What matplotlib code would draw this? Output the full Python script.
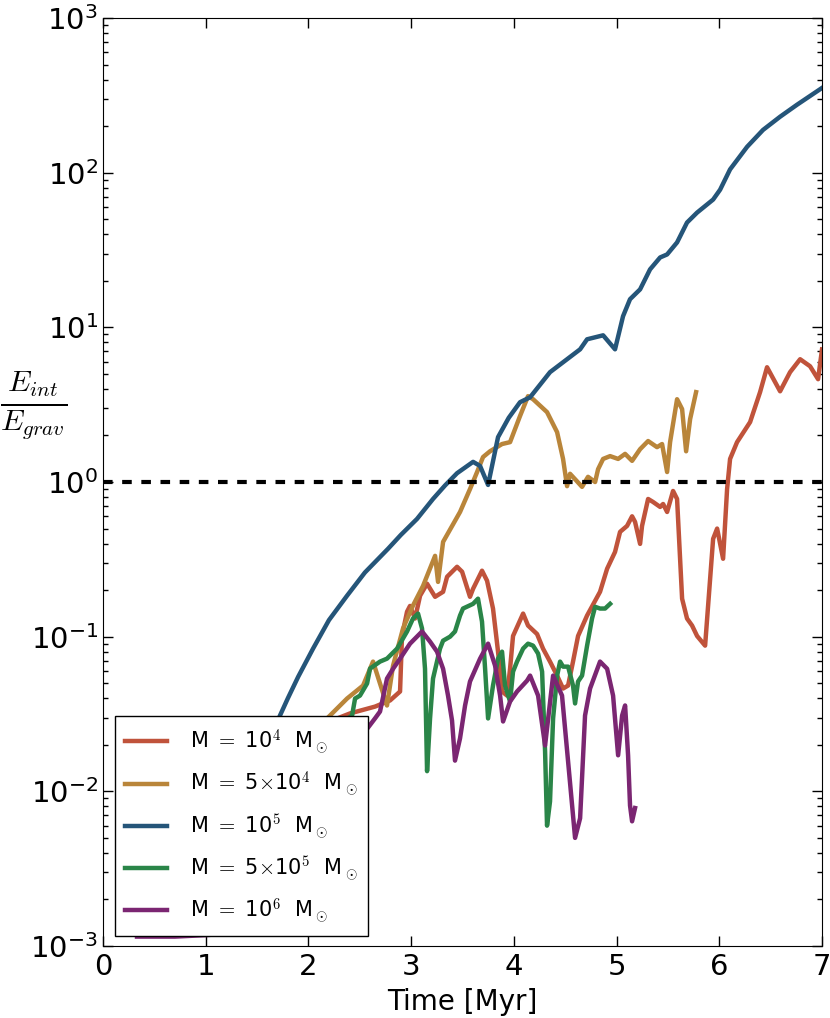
import numpy as np
import matplotlib
matplotlib.use("Agg")
import matplotlib.pyplot as plt
from matplotlib.font_manager import FontProperties

# Time [Myr] and E_int/E_grav, one pair of lists per run
t_1e4 = [1.0, 2.0, 2.405, 2.648, 2.795, 2.892, 2.911, 2.960, 2.989, 3.038, 3.087, 3.155,
         3.233, 3.311, 3.350, 3.447, 3.496, 3.573, 3.603, 3.690, 3.739, 3.797, 3.846,
         3.885, 3.934, 3.963, 3.992, 4.090, 4.138, 4.226, 4.284, 4.352, 4.421, 4.479,
         4.528, 4.576, 4.625, 4.713, 4.839, 4.908, 4.985, 5.034, 5.102, 5.151, 5.180,
         5.229, 5.248, 5.307, 5.355, 5.424, 5.453, 5.492, 5.550, 5.589, 5.638, 5.686,
         5.735, 5.784, 5.862, 5.940, 5.979, 6.037, 6.076, 6.105, 6.173, 6.300, 6.397,
         6.465, 6.592, 6.689, 6.787, 6.884, 6.962, 7.0]
e_1e4 = [0.01, 0.025, 0.0319, 0.0353, 0.0387, 0.0442, 0.101, 0.145, 0.158, 0.131, 0.184,
         0.220, 0.181, 0.195, 0.244, 0.283, 0.263, 0.181, 0.204, 0.267, 0.230, 0.152,
         0.080, 0.0442, 0.0416, 0.062, 0.101, 0.141, 0.118, 0.104, 0.0837, 0.069, 0.056,
         0.0462, 0.0483, 0.069, 0.101, 0.137, 0.195, 0.275, 0.353, 0.476, 0.520, 0.60,
         0.552, 0.398, 0.520, 0.777, 0.743, 0.690, 0.721, 0.640, 0.875, 0.777, 0.176,
         0.131, 0.118, 0.101, 0.0875, 0.429, 0.50, 0.319, 0.90, 1.41, 1.81, 2.44, 3.81,
         5.52, 3.86, 5.13, 6.22, 5.60, 4.62, 7.2]

t_5e4 = [1.0, 2.210, 2.376, 2.532, 2.629, 2.765, 2.824, 2.921, 3.018, 3.116, 3.233, 3.262,
         3.311, 3.476, 3.573, 3.642, 3.700, 3.768, 3.885, 3.963, 4.060, 4.138, 4.187,
         4.323, 4.421, 4.479, 4.518, 4.547, 4.615, 4.664, 4.722, 4.791, 4.820, 4.869,
         4.937, 5.015, 5.083, 5.151, 5.229, 5.307, 5.394, 5.443, 5.492, 5.521, 5.589,
         5.638, 5.677, 5.716, 5.774]
e_5e4 = [0.005, 0.0309, 0.0398, 0.0483, 0.069, 0.0359, 0.065, 0.113, 0.159, 0.213, 0.333,
         0.226, 0.41, 0.64, 0.90, 1.16, 1.45, 1.58, 1.76, 1.81, 2.67, 3.59, 3.43, 2.83,
         2.10, 1.41, 0.94, 1.13, 1.01, 0.93, 1.08, 1.0, 1.21, 1.41, 1.47, 1.41, 1.52,
         1.37, 1.63, 1.84, 1.68, 1.76, 1.16, 1.81, 3.43, 2.96, 1.58, 2.55, 3.81]

t_1e5 = [1.2, 1.723, 1.80, 1.90, 2.045, 2.20, 2.376, 2.55, 2.775, 2.90, 3.057, 3.213,
         3.33, 3.447, 3.603, 3.671, 3.749, 3.846, 3.95, 4.060, 4.158, 4.352, 4.518,
         4.645, 4.713, 4.869, 4.985, 5.063, 5.131, 5.229, 5.326, 5.424, 5.492, 5.589,
         5.686, 5.784, 5.940, 6.008, 6.105, 6.271, 6.426, 6.592, 6.757, 7.0]
e_1e5 = [0.005, 0.0309, 0.040, 0.055, 0.0837, 0.128, 0.184, 0.26, 0.370, 0.455, 0.577,
         0.777, 0.95, 1.14, 1.35, 1.27, 0.957, 1.95, 2.6, 3.28, 3.53, 5.13, 6.22, 7.21,
         8.37, 8.88, 7.21, 11.8, 15.2, 17.6, 23.7, 28.3, 29.6, 35.4, 47.6, 55.2, 67.0,
         77.6, 105, 147, 189, 230, 275, 353]

t_5e5 = [1.0, 2.0, 2.425, 2.454, 2.502, 2.571, 2.600, 2.697, 2.765, 2.863, 2.960, 3.018,
         3.067, 3.106, 3.135, 3.155, 3.184, 3.213, 3.281, 3.311, 3.379, 3.427, 3.476,
         3.505, 3.603, 3.651, 3.690, 3.720, 3.749, 3.797, 3.846, 3.885, 3.914, 3.963,
         3.992, 4.031, 4.090, 4.138, 4.187, 4.236, 4.275, 4.304, 4.323, 4.352, 4.382,
         4.421, 4.450, 4.479, 4.528, 4.576, 4.596, 4.625, 4.664, 4.713, 4.761, 4.791,
         4.839, 4.888, 4.937]
e_5e5 = [0.005, 0.02, 0.0309, 0.0398, 0.0416, 0.0498, 0.0622, 0.069, 0.0721, 0.0837, 0.108,
         0.131, 0.141, 0.113, 0.062, 0.0135, 0.0296, 0.0536, 0.0837, 0.0942, 0.100,
         0.108, 0.137, 0.152, 0.163, 0.176, 0.125, 0.062, 0.0296, 0.0483, 0.0721, 0.080,
         0.0483, 0.0381, 0.0594, 0.069, 0.0837, 0.0901, 0.0875, 0.0777, 0.0594, 0.0181,
         0.0060, 0.0086, 0.0296, 0.056, 0.069, 0.064, 0.064, 0.0483, 0.037, 0.0513,
         0.056, 0.0875, 0.131, 0.156, 0.152, 0.152, 0.163]

t_1e6 = [0.331, 0.70, 1.042, 1.5, 2.2, 2.648, 2.697, 2.765, 2.824, 2.892, 2.989, 3.106,
         3.184, 3.252, 3.311, 3.359, 3.398, 3.427, 3.476, 3.525, 3.573, 3.671, 3.749,
         3.817, 3.866, 3.895, 3.963, 4.031, 4.129, 4.158, 4.236, 4.304, 4.382, 4.469,
         4.528, 4.596, 4.645, 4.693, 4.742, 4.839, 4.908, 4.966, 5.015, 5.054, 5.083,
         5.112, 5.131, 5.151, 5.180]
e_1e6 = [1.15e-3, 1.15e-3, 1.18e-3, 0.003, 0.012, 0.0296, 0.0328, 0.0536, 0.062, 0.0721,
         0.0901, 0.108, 0.0929, 0.080, 0.062, 0.0416, 0.0287, 0.0158, 0.022, 0.0359,
         0.0513, 0.0721, 0.0901, 0.065, 0.0416, 0.0283, 0.0381, 0.0442, 0.052, 0.056,
         0.0416, 0.0198, 0.056, 0.0416, 0.0156, 0.0050, 0.0067, 0.0309, 0.0462, 0.069,
         0.062, 0.0416, 0.0171, 0.0309, 0.0359, 0.0171, 0.0081, 0.0064, 0.0078]

labels = [r'M $=$ 10$^4$  M$_\odot$',
          r'M $=$ 5$\times$10$^4$  M$_\odot$',
          r'M $=$ 10$^5$  M$_\odot$',
          r'M $=$ 5$\times$10$^5$  M$_\odot$',
          r'M $=$ 10$^6$  M$_\odot$']
colors = ['#c0533b', '#b9853a', '#255579', '#2a8548', '#7b2672']

plt.rcParams['mathtext.fontset'] = 'dejavusans'

fig = plt.figure(figsize=(8.3, 10.18), dpi=100)
ax = fig.add_axes([103/830, 1 - 946/1018, 719/830, 928/1018])

runs = [(t_1e4, e_1e4), (t_5e4, e_5e4), (t_1e5, e_1e5), (t_5e5, e_5e5), (t_1e6, e_1e6)]
for (t, e), lab, c in zip(runs, labels, colors):
    ax.plot(t, e, color=c, lw=3.2, label=lab)

ax.axhline(1.0, color='k', lw=3, ls=(0, (2.3, 2.3)))

ax.set_yscale('log')
ax.set_xlim(0, 7)
ax.set_ylim(1e-3, 1e3)
ax.set_xticks(range(8))

ax.tick_params(which='both', direction='in', top=True, right=True, labelsize=21)
ax.tick_params(which='major', length=7, width=1)
ax.tick_params(which='minor', length=3.5, width=1)
ax.tick_params(axis='x', pad=5)

ax.set_xlabel('Time [Myr]', fontsize=20, labelpad=5)
ax.set_ylabel(r'$\frac{E_{int}}{E_{grav}}$', fontsize=31, rotation=0,
              math_fontfamily='cm', ha='center', va='center')
ax.yaxis.set_label_coords(-0.097, 0.583)

leg = ax.legend(loc='lower left', bbox_to_anchor=(12/719, 10/928), borderaxespad=0,
                prop=FontProperties(size=15, math_fontfamily='cm'),
                fancybox=False, framealpha=1, edgecolor='k', handlelength=2.0,
                handletextpad=1.1, labelspacing=0.62, borderpad=0.5)
leg.get_frame().set_linewidth(1.0)

fig.savefig('out.png', dpi=100)
